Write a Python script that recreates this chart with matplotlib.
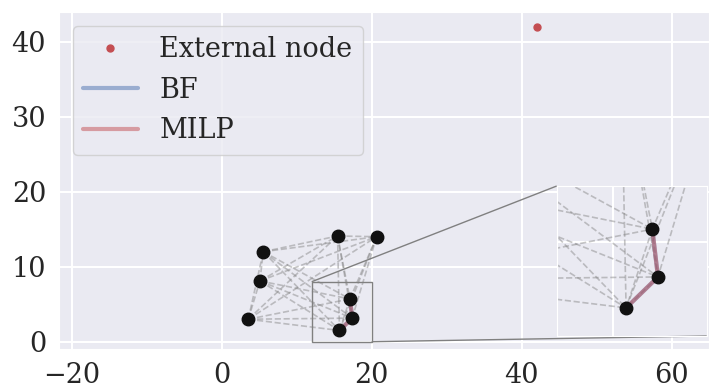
import itertools
import matplotlib
matplotlib.use("Agg")
import matplotlib.pyplot as plt
import seaborn as sns
from mpl_toolkits.axes_grid1.inset_locator import mark_inset

# node coordinates
node_x = [3.55, 5.1, 5.55, 15.45, 20.65, 17.1, 17.4, 15.7]
node_y = [3.0, 8.1, 12.0, 14.1, 14.0, 5.7, 3.15, 1.5]
external_x = [42]
external_y = [42]

# route found by both solvers (indices into the node lists)
bf_route = [7, 6, 5]
milp_route = [7, 6, 5]

sns.set_style("darkgrid")
plt.rcParams["font.family"] = ["DejaVu Serif"]
plt.rcParams["xtick.major.size"] = 5.8
plt.rcParams["ytick.major.size"] = 5.8
plt.rcParams["xtick.major.width"] = 1.25
plt.rcParams["ytick.major.width"] = 1.25
plt.rcParams["grid.linewidth"] = 1.5

fs = 19.5
blue = "#4c72b0"
red = "#c44e52"


def draw(a):
    for i, j in itertools.combinations(range(len(node_x)), 2):
        a.plot([node_x[i], node_x[j]], [node_y[i], node_y[j]], "--",
               color="gray", alpha=0.45, lw=1.2, zorder=1)
    a.plot([node_x[k] for k in bf_route], [node_y[k] for k in bf_route],
           color=blue, alpha=0.5, lw=3, zorder=2, label="BF")
    a.plot([node_x[k] for k in milp_route], [node_y[k] for k in milp_route],
           color=red, alpha=0.5, lw=3, zorder=2, label="MILP")
    a.plot(node_x, node_y, "o", color="#111111", ms=9, zorder=3)


fig, ax = plt.subplots(figsize=(7.09, 3.85), dpi=100)
fig.subplots_adjust(left=59 / 709, right=1.0, bottom=1 - 349.3 / 385, top=1 - 12 / 385)

ax.plot(external_x, external_y, ".", color=red, ms=10, label="External node", zorder=3)
draw(ax)

ax.set_xlim(-21.67, 64.94)
ax.set_ylim(-1.01, 43.96)
ax.set_xticks([-20, 0, 20, 40, 60])
ax.set_yticks([0, 10, 20, 30, 40])
ax.tick_params(labelsize=fs, colors="#262626")

handles, labels = ax.get_legend_handles_labels()
ax.legend(handles[:3], labels[:3], loc="upper left", fontsize=fs, numpoints=1)

# zoomed inset of the route
axins = ax.inset_axes([0.7657, 0.0394, 0.2308, 0.4447])
draw(axins)
axins.set_xlim(12, 20)
axins.set_ylim(0, 8)
axins.set_xticks([15])
axins.set_yticks([5])
axins.tick_params(length=0, labelbottom=False, labelleft=False)
mark_inset(ax, axins, loc1=2, loc2=4, fc="none", ec="0.5", lw=1)

fig.savefig("out.png", dpi=100)
